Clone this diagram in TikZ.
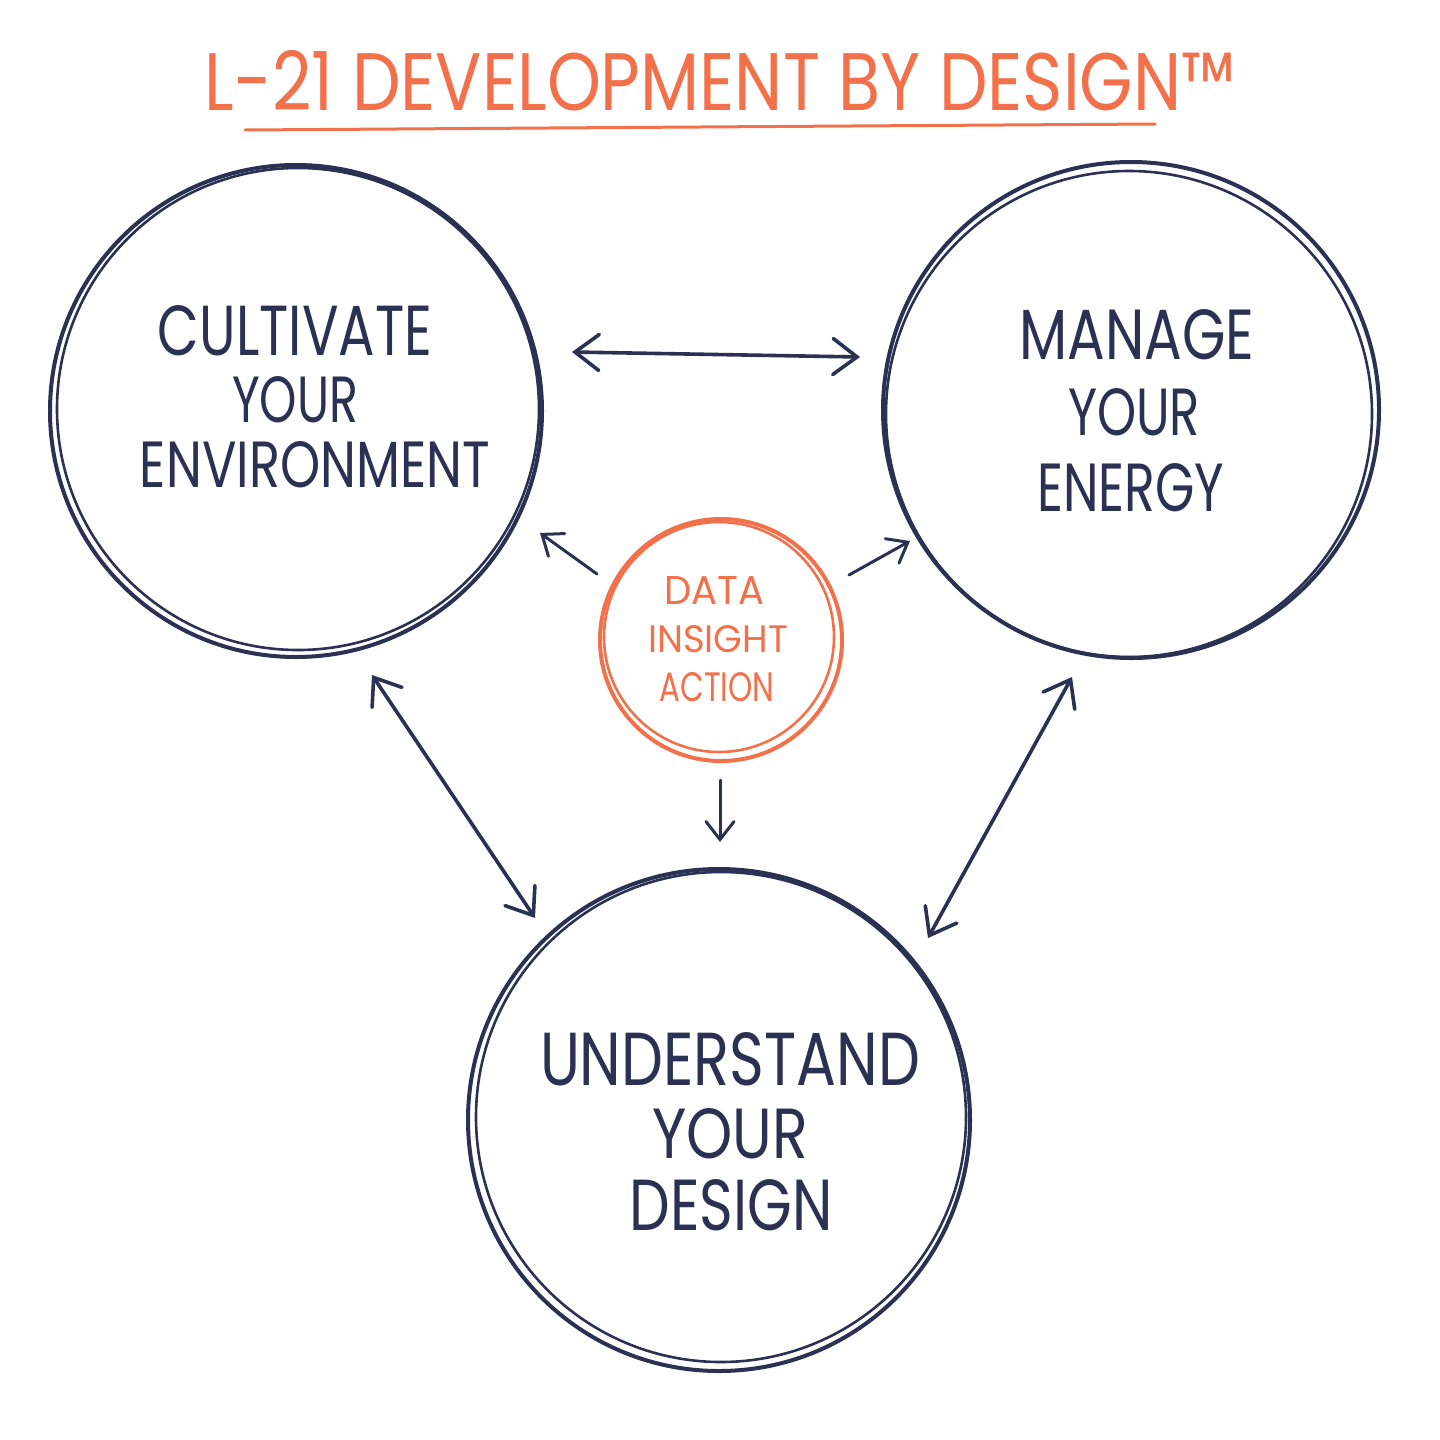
\documentclass[tikz,border=0pt]{standalone}
\usepackage{graphicx}
\usepackage{fontspec}
\setmainfont{Poppins}
\usetikzlibrary{arrows.meta}
\definecolor{navy}{HTML}{2B3153}
\definecolor{orng}{HTML}{F2714B}
\newcommand{\fitbox}[3]{\resizebox{#1pt}{#2pt}{\fontsize{40}{48}\selectfont #3}}
\tikzset{
  bigcirc/.style={circle, draw=navy, line width=4pt, inner sep=0pt},
  midcirc/.style={circle, draw=orng, line width=4pt, inner sep=0pt},
  second/.style={line width=2.6pt},
  navytxt/.style={text=navy, inner sep=0pt, outer sep=0pt},
  orngtxt/.style={text=orng, inner sep=0pt, outer sep=0pt},
  bigarr/.style={draw=navy, line width=3.6pt, line cap=round,
     arrows={Straight Barb[length=24pt,width=36pt,line cap=round]-Straight Barb[length=24pt,width=36pt,line cap=round]}},
  smallarr/.style={draw=navy, line width=3pt, line cap=round,
     arrows={-Straight Barb[length=18pt,width=28pt,line cap=round]}}
}
\begin{document}
\begin{tikzpicture}[x=1pt,y=-1pt]
\useasboundingbox[fill=white] (0,0) rectangle (1440,1440);

% title
\node[orngtxt] (title) at (720,81) {\fitbox{1030}{60}{L-21 DEVELOPMENT BY DESIGN™}};
\draw[orng, line width=3pt, line cap=round] (245,130) -- (1155,124);

% circles
\node[bigcirc, minimum size=492pt] (env) at (296,411) {};
\draw[navy, second] (env.center) ++(2,-2) circle[radius=241];
\node[bigcirc, minimum size=496pt] (nrg) at (1131,410) {};
\draw[navy, second] (nrg.center) ++(-2,4) circle[radius=243];
\node[bigcirc, minimum size=502pt] (dsg) at (719,1120) {};
\draw[navy, second] (dsg.center) ++(2,-3) circle[radius=245];
\node[midcirc, minimum size=242pt] (core) at (721,640) {};
\draw[orng, second] (core.center) ++(-2,-3) circle[radius=115];

% texts
\node[navytxt] (envA) at (295,331) {\fitbox{274}{50}{CULTIVATE}};
\node[navytxt] (envB) at (295,400) {\fitbox{126}{46}{YOUR}};
\node[navytxt] (envC) at (315,465) {\fitbox{350}{46}{ENVIRONMENT}};

\node[navytxt] (nrgA) at (1137,335) {\fitbox{235}{50}{MANAGE}};
\node[navytxt] (nrgB) at (1134,412) {\fitbox{132}{47}{YOUR}};
\node[navytxt] (nrgC) at (1131,488) {\fitbox{187}{48}{ENERGY}};

\node[navytxt] (dsgA) at (730,1059) {\fitbox{380}{53}{UNDERSTAND}};
\node[navytxt] (dsgB) at (730,1134) {\fitbox{156}{50}{YOUR}};
\node[navytxt] (dsgC) at (731,1205) {\fitbox{203}{51}{DESIGN}};

\node[orngtxt] (coreA) at (714,590) {\fitbox{100}{28}{DATA}};
\node[orngtxt] (coreB) at (718,639) {\fitbox{140}{27}{INSIGHT}};
\node[orngtxt] (coreC) at (717,687) {\fitbox{115}{29}{ACTION}};

% connector ends
\coordinate (h1) at (572,352);
\coordinate (h2) at (860,357);
\coordinate (l1) at (372,675);
\coordinate (l2) at (535,918);
\coordinate (r1) at (1072,677);
\coordinate (r2) at (928,938);
\coordinate (ca) at (597,574);
\coordinate (cb) at (540,533);
\coordinate (cc) at (849,575);
\coordinate (cd) at (910,541);
\coordinate (ce) at (720,780);
\coordinate (cf) at (720,842);

\draw[bigarr] (h1) -- (h2);
\draw[bigarr] (l1) -- (l2);
\draw[bigarr] (r1) -- (r2);
\draw[smallarr] (ca) -- (cb);
\draw[smallarr] (cc) -- (cd);
\draw[smallarr] (ce) -- (cf);
\end{tikzpicture}
\end{document}
